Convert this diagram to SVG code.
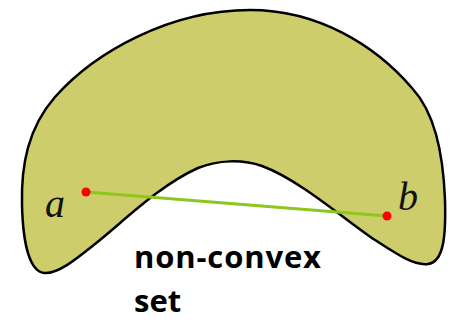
<svg xmlns="http://www.w3.org/2000/svg" width="454" height="320" viewBox="0 0 454 320">
<style>
.label{font-family:"Liberation Serif",serif;font-style:italic;font-size:40px;fill:#111}
.cap{font-family:"Open Sans",sans-serif;font-weight:bold;font-size:31px;fill:#000}
.pt{fill:#ff0000}
</style>
<rect width="454" height="320" fill="#ffffff"/>
<g id="set">
<path d="M250,10 C318,10 375,45 412,88 C434,112 443,150 445,200 C446,235 444,262 428,264 C414,266 395,253 375,240 C345,220 300,180 262,166 C242,159 218,160 198,168 C160,185 125,220 95,244 C75,260 58,274 44,273 C30,271 23,245 22,205 C21,165 28,128 55,97 C95,52 170,10 250,10 Z" fill="#cdcd6b" stroke="#000" stroke-width="2.5"/>
</g>
<g id="connectors">
<line x1="86" y1="192" x2="387" y2="216" stroke="#8dc61c" stroke-width="3"/>
</g>
<g id="a">
<circle class="pt" cx="86" cy="192" r="4.5"/>
<text class="label" x="45" y="217">a</text>
</g>
<g id="b">
<circle class="pt" cx="387" cy="216" r="4.5"/>
<text class="label" x="398" y="210">b</text>
</g>
<g id="caption">
<text class="cap" x="134" y="268" textLength="187" lengthAdjust="spacing">non-convex</text>
<text class="cap" x="134" y="312">set</text>
</g>
</svg>
